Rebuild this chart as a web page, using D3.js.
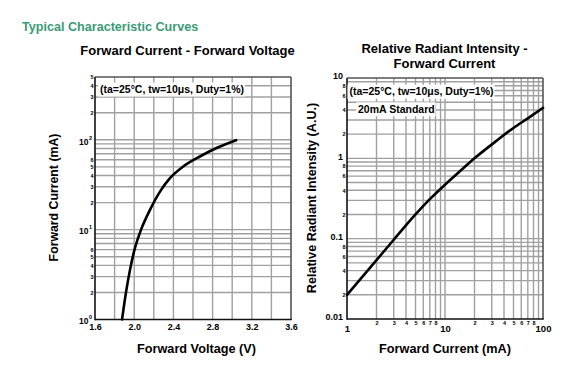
<!DOCTYPE html>
<html><head><meta charset="utf-8">
<script src="https://cdn.jsdelivr.net/npm/d3@7"></script>
<style>
html,body{margin:0;padding:0;background:#fff;}
svg{display:block;font-family:"Liberation Sans",Arial,sans-serif;font-weight:bold;}
</style></head>
<body>
<svg id="c" width="575" height="379"></svg>
<script>
// ---- data ----
const pageTitle = "Typical Characteristic Curves";
const leftTitle = "Forward Current - Forward Voltage";
const leftXLabel = "Forward Voltage (V)";
const leftYLabel = "Forward Current (mA)";
const rightTitle = ["Relative Radiant Intensity -", "Forward Current"];
const rightXLabel = "Forward Current (mA)";
const rightYLabel = "Relative Radiant Intensity (A.U.)";
const condText = "(ta=25°C, tw=10μs, Duty=1%)";
const stdText = "20mA Standard";

const fvVoltage = [1.876, 1.916, 1.957, 1.998, 2.07, 2.161, 2.263, 2.365, 2.50, 2.67, 2.84, 3.04];
const fvCurrent = [1, 2, 3.56, 5.7, 10, 16.6, 26.5, 37.4, 50.4, 65.2, 81, 99];

const riCurrent = [1, 2, 3, 5, 7, 10, 14, 20, 33.5, 50, 70, 100];
const riIntensity = [0.02, 0.054, 0.097, 0.2, 0.31, 0.47, 0.68, 1.0, 1.65, 2.39, 3.15, 4.25];

const leftXTicks = [1.6, 2.0, 2.4, 2.8, 3.2, 3.6];
const leftXGrid = [1.8, 2.0, 2.2, 2.4, 2.6, 2.8, 3.0, 3.2, 3.4];
const leftYMajor = [1, 10, 100];
const leftYMinorLabels = [2, 3, 4, 5, 6, 20, 30, 40, 50, 60, 200, 300, 400, 500];
const rightXMajor = [1, 10, 100];
const rightXMinorLabels = [2, 3, 4, 5, 6, 7, 8, 20, 30, 40, 50, 60, 70, 80];
const rightYMajor = [0.01, 0.1, 1, 10];
const rightYMinorLabels = [0.02, 0.04, 0.06, 0.08, 0.2, 0.4, 0.6, 0.8, 2, 4, 6, 8];

// ---- helpers ----
const svg = d3.select("#c");
const gridColor = "#a0a0a0";

function logGridValues(lo, hi) {
  const out = [];
  for (let e = Math.floor(Math.log10(lo)); Math.pow(10, e) <= hi; e++) {
    for (let m = 1; m <= 9; m++) {
      const v = +(m * Math.pow(10, e)).toPrecision(6);
      if (v > lo * 1.0001 && v < hi * 0.9999) out.push(v);
    }
  }
  return out;
}

function drawPanel(opt) {
  const {x, y, xGrid, yGrid} = opt;
  const [x0, x1] = x.range();
  const [y0, y1] = y.range();
  const g = svg.append("g");
  g.append("g").selectAll("line").data(xGrid).join("line")
    .attr("x1", d => x(d)).attr("x2", d => x(d)).attr("y1", y0).attr("y2", y1)
    .attr("stroke", gridColor).attr("stroke-width", 1.4);
  g.append("g").selectAll("line").data(yGrid).join("line")
    .attr("y1", d => y(d)).attr("y2", d => y(d)).attr("x1", x0).attr("x2", x1)
    .attr("stroke", gridColor).attr("stroke-width", 1.4);
  g.append("line").attr("x1", x1).attr("x2", x1).attr("y1", y0).attr("y2", y1).attr("stroke", "#555").attr("stroke-width", 1.6);
  g.append("line").attr("x1", x0).attr("x2", x1).attr("y1", y1).attr("y2", y1).attr("stroke", "#555").attr("stroke-width", 1.6);
  g.append("line").attr("x1", x0).attr("x2", x0).attr("y1", y0 + 0.8).attr("y2", y1).attr("stroke", "#111").attr("stroke-width", 1.6);
  g.append("line").attr("x1", x0).attr("x2", x1 + 0.8).attr("y1", y0).attr("y2", y0).attr("stroke", "#111").attr("stroke-width", 1.6);
  g.append("path").datum(opt.xs.map((v, i) => [v, opt.ys[i]]))
    .attr("fill", "none").attr("stroke", "#000").attr("stroke-width", 2.6)
    .attr("stroke-linecap", "round").attr("stroke-linejoin", "round")
    .attr("d", d3.line().x(d => x(d[0])).y(d => y(d[1])).curve(d3.curveMonotoneX));
  return g;
}

function annot(g, tx, cy, text, size) {
  const t = g.append("text").attr("x", tx).attr("y", cy).attr("dy", "0.35em")
    .attr("font-size", size).attr("fill", "#000").text(text);
  const bb = t.node().getBBox();
  g.insert("rect", () => t.node())
    .attr("x", bb.x - 2).attr("y", cy - 7).attr("width", bb.width + 3).attr("height", 14)
    .attr("fill", "#fff");
}

function styleAxis(sel, size) {
  sel.select(".domain").remove();
  sel.selectAll(".tick line").remove();
  sel.selectAll("text").attr("font-size", size).attr("fill", "#000");
  sel.attr("font-family", null);
}

const mantissa = d => String(Math.round(d / Math.pow(10, Math.floor(Math.log10(d) + 1e-9))));

// ---- page title ----
svg.append("text").attr("x", 22).attr("y", 30.5).attr("font-size", 12.6)
  .attr("fill", "#3a9b76").text(pageTitle);

// ===== LEFT PANEL =====
const xL = d3.scaleLinear().domain([1.6, 3.6]).range([95, 291]);
const yL = d3.scaleLog().domain([1, 500]).range([319.5, 77]);
const gL = drawPanel({x: xL, y: yL, xGrid: leftXGrid, yGrid: logGridValues(1, 500), xs: fvVoltage, ys: fvCurrent});
annot(gL, 100, 89.5, condText, 10.5);

svg.append("g").attr("transform", "translate(0,319.5)")
  .call(d3.axisBottom(xL).tickValues(leftXTicks).tickSize(0).tickPadding(4.5).tickFormat(d3.format(".1f")))
  .call(s => styleAxis(s, 9));

const yLMajAx = svg.append("g").attr("transform", "translate(92,0)")
  .call(d3.axisLeft(yL).tickValues(leftYMajor).tickSize(0).tickPadding(0).tickFormat(() => "10"))
  .call(s => styleAxis(s, 8.5));
yLMajAx.selectAll(".tick text").attr("dy", "0.5em").each(function(d) {
  d3.select(this).append("tspan").attr("font-size", 5.5).attr("dy", "-0.9em").attr("dx", "0.5").text(Math.round(Math.log10(d)));
});
svg.append("g").attr("transform", "translate(93.5,0)")
  .call(d3.axisLeft(yL).tickValues(leftYMinorLabels).tickSize(0).tickPadding(0).tickFormat(mantissa))
  .call(s => styleAxis(s, 5.5));

svg.append("text").attr("x", 187.5).attr("y", 54.5).attr("text-anchor", "middle").attr("font-size", 13).text(leftTitle);
svg.append("text").attr("x", 196.5).attr("y", 352.5).attr("text-anchor", "middle").attr("font-size", 12.7).text(leftXLabel);
svg.append("text").attr("transform", "translate(58.3,197.5) rotate(-90)").attr("text-anchor", "middle").attr("font-size", 12.3).text(leftYLabel);

// ===== RIGHT PANEL =====
const xR = d3.scaleLog().domain([1, 100]).range([347, 543]);
const yR = d3.scaleLog().domain([0.01, 10]).range([319, 78]);
const gR = drawPanel({x: xR, y: yR, xGrid: logGridValues(1, 100), yGrid: logGridValues(0.01, 10), xs: riCurrent, ys: riIntensity});
annot(gR, 349.5, 91.7, condText, 10.5);
annot(gR, 358, 109.3, stdText, 10.5);

svg.append("g").attr("transform", "translate(0,319)")
  .call(d3.axisBottom(xR).tickValues(rightXMajor).tickSize(0).tickPadding(6.5).tickFormat(d3.format("d")))
  .call(s => styleAxis(s, 9.5));
svg.append("g").attr("transform", "translate(0,319)")
  .call(d3.axisBottom(xR).tickValues(rightXMinorLabels).tickSize(0).tickPadding(2.5).tickFormat(mantissa))
  .call(s => styleAxis(s, 5.5));

svg.append("g").attr("transform", "translate(343,0)")
  .call(d3.axisLeft(yR).tickValues(rightYMajor).tickSize(0).tickPadding(0).tickFormat(d => d3.format("~g")(d)))
  .call(s => styleAxis(s, 9))
  .call(s => s.selectAll(".tick text").attr("dy", "0.1em"));
svg.append("g").attr("transform", "translate(345.5,0)")
  .call(d3.axisLeft(yR).tickValues(rightYMinorLabels).tickSize(0).tickPadding(0).tickFormat(mantissa))
  .call(s => styleAxis(s, 5.5));

svg.append("text").attr("x", 444.5).attr("y", 52.8).attr("text-anchor", "middle").attr("font-size", 13).text(rightTitle[0]);
svg.append("text").attr("x", 444.5).attr("y", 67.8).attr("text-anchor", "middle").attr("font-size", 13).text(rightTitle[1]);
svg.append("text").attr("x", 445).attr("y", 352.7).attr("text-anchor", "middle").attr("font-size", 12.7).text(rightXLabel);
svg.append("text").attr("transform", "translate(315.5,198) rotate(-90)").attr("text-anchor", "middle").attr("font-size", 12.6).text(rightYLabel);
</script>
</body></html>
